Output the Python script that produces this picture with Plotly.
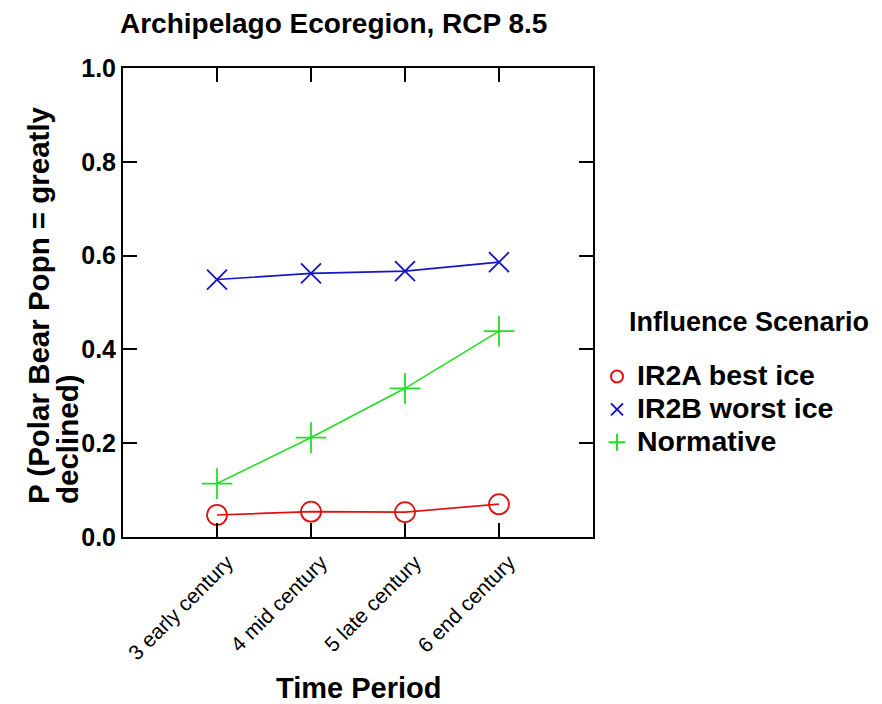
import plotly.graph_objects as go

periods = ["3 early century", "4 mid century", "5 late century", "6 end century"]
ir2a_best = [0.047, 0.054, 0.053, 0.070]
ir2b_worst = [0.549, 0.562, 0.567, 0.586]
normative = [0.114, 0.212, 0.317, 0.439]

series_names = ["IR2A best ice", "IR2B worst ice", "Normative"]
colors = ["#e01010", "#1414c8", "#22e022"]
symbols = ["circle-open", "x-thin-open", "cross-thin-open"]
sizes = [20, 20, 22]

FONT = "Liberation Sans, Arial, sans-serif"

# page offset (body margin) and plot-area in page pixels
OFF = 8
W, H = 882 - OFF, 704 - OFF
PL, PR, PT, PB = 123, 593, 68, 537


def px(xp):
    return (xp - PL) / (PR - PL)


def py(yp):
    return (PB - yp) / (PB - PT)


fig = go.Figure()
for name, vals, c, s, sz in zip(series_names, [ir2a_best, ir2b_worst, normative], colors, symbols, sizes):
    fig.add_trace(go.Scatter(
        x=periods, y=vals, mode="lines+markers", name=name, showlegend=False,
        line=dict(color=c, width=1.6),
        marker=dict(symbol=s, size=sz, color=c, line=dict(color=c, width=1.8)),
    ))
    fig.add_trace(go.Scatter(
        x=[None], y=[None], mode="markers",
        name='<span style="font-size:28.5px"><b>%s</b></span>' % name, showlegend=True,
        marker=dict(symbol=s, size=11, color=c, line=dict(color=c, width=1)),
    ))

fig.update_layout(
    width=W, height=H,
    margin=dict(l=PL - OFF, r=W - (PR - OFF), t=PT - OFF, b=H - (PB - OFF)),
    paper_bgcolor="white", plot_bgcolor="white",
    font=dict(family=FONT, color="black"),
    title=dict(text="<b>Archipelago Ecoregion, RCP 8.5</b>", x=(120 - OFF) / W, xanchor="left",
               xref="container", yref="container",
               y=1 - (23 - OFF) / H, yanchor="middle", font=dict(size=28, family=FONT)),
    showlegend=True,
    legend=dict(x=px(597), xanchor="left", y=py(355), yanchor="top",
                font=dict(size=23, family=FONT), bgcolor="rgba(0,0,0,0)", itemsizing="constant",
                tracegroupgap=0),
    xaxis=dict(
        type="category", categoryorder="array", categoryarray=periods,
        range=[-1, 4], tickangle=-45, ticks="inside", ticklen=14, tickwidth=1.5, tickcolor="black",
        showline=True, linewidth=2, linecolor="black", mirror="ticks", showgrid=False, zeroline=False,
        tickfont=dict(size=21, family=FONT), ticklabelshift=10, ticklabelstandoff=3,
    ),
    yaxis=dict(
        range=[0, 1.0], tickvals=[0, 0.2, 0.4, 0.6, 0.8, 1.0],
        ticktext=["<b>0.0</b>", "<b>0.2</b>", "<b>0.4</b>", "<b>0.6</b>", "<b>0.8</b>", "<b>1.0</b>"],
        ticks="inside", ticklen=14, tickwidth=1.5, tickcolor="black",
        showline=True, linewidth=2, linecolor="black", mirror="ticks", showgrid=False, zeroline=False,
        tickfont=dict(size=25, family=FONT),
    ),
    annotations=[
        dict(text="<b>P (Polar Bear Popn = greatly</b>", textangle=-90,
             xref="paper", yref="paper", x=px(38), y=py(506),
             xanchor="center", yanchor="bottom", showarrow=False,
             font=dict(size=29.5, family=FONT)),
        dict(text="<b>declined)</b>", textangle=-90,
             xref="paper", yref="paper", x=px(67), y=py(506),
             xanchor="center", yanchor="bottom", showarrow=False,
             font=dict(size=29.5, family=FONT)),
        dict(text="<b>Time Period</b>", xref="paper", yref="paper",
             x=px(358), y=py(688), xanchor="center", yanchor="middle", showarrow=False,
             font=dict(size=29, family=FONT)),
        dict(text="<b>Influence Scenario</b>", xref="paper", yref="paper",
             x=px(627), y=py(322), xanchor="left", yanchor="middle",
             showarrow=False, font=dict(size=27, family=FONT)),
    ],
)

fig.write_html("out.html")
